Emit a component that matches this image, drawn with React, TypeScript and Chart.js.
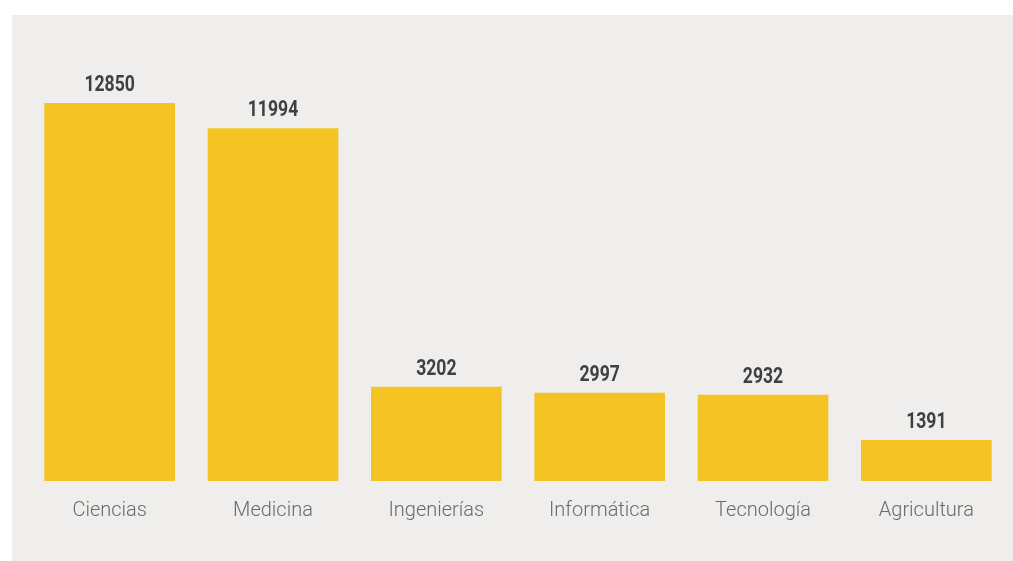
import React, { useEffect, useRef } from "react";
import { Chart, registerables } from "chart.js";

Chart.register(...registerables);

const categories = ["Ciencias", "Medicina", "Ingenierías", "Informática", "Tecnología", "Agricultura"];
const values = [12850, 11994, 3202, 2997, 2932, 1391];

const valueLabelPlugin = {
  id: "valueLabels",
  afterDatasetsDraw(chart: any) {
    const { ctx } = chart;
    const meta = chart.getDatasetMeta(0);
    ctx.save();
    ctx.font = "bold 22px Roboto, sans-serif";
    ctx.fillStyle = "#404040";
    ctx.textAlign = "center";
    ctx.textBaseline = "alphabetic";
    meta.data.forEach((bar: any, i: number) => {
      ctx.save();
      ctx.translate(bar.x, bar.y - 12);
      ctx.scale(0.8, 1);
      ctx.fillText(String(values[i]), 0, 0);
      ctx.restore();
    });
    ctx.restore();
  },
};

export default function App() {
  const ref = useRef<HTMLCanvasElement>(null);
  useEffect(() => {
    document.body.style.margin = "0";
    const chart = new Chart(ref.current!, {
      type: "bar",
      data: {
        labels: categories,
        datasets: [
          {
            data: values,
            backgroundColor: "#F6C325",
            borderWidth: 0,
            categoryPercentage: 0.8,
            barPercentage: 1,
          },
        ],
      },
      options: {
        animation: false,
        responsive: false,
        layout: { padding: { top: 88, bottom: 20, left: 16, right: 5 } },
        plugins: { legend: { display: false }, tooltip: { enabled: false } },
        scales: {
          x: {
            grid: { display: false, drawTicks: false },
            border: { display: false },
            ticks: {
              padding: 18,
              color: "#6a6a6a",
              font: { family: "Roboto, sans-serif", size: 20, weight: "300" as any },
            },
          },
          y: { display: false, min: 0, max: 12850 },
        },
      },
      plugins: [valueLabelPlugin],
    });
    return () => chart.destroy();
  }, []);
  return (
    <div style={{ position: "relative", width: 1013, height: 561, background: "#ffffff" }}>
      <div style={{ position: "absolute", left: 12, top: 15, width: 1001, height: 546, background: "#EFEEEC" }}>
        <canvas ref={ref} width={1001} height={546} style={{ display: "block" }} />
      </div>
    </div>
  );
}
